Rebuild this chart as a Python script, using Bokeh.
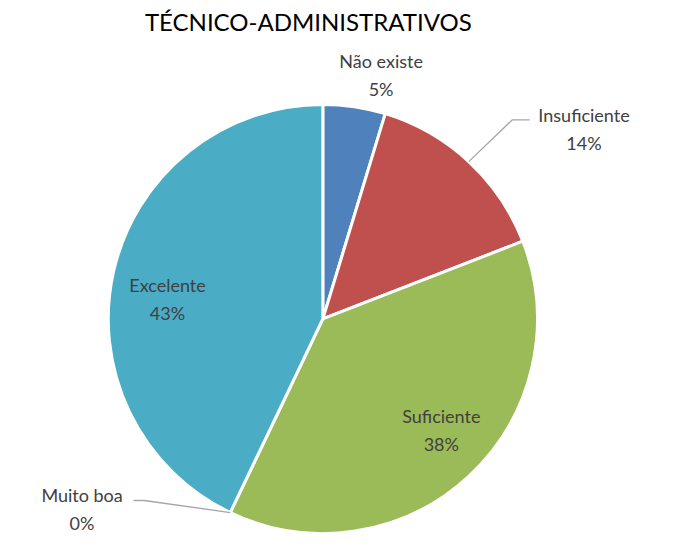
import math
from bokeh.plotting import figure
from bokeh.models import Range1d
from bokeh.core.properties import value
from bokeh.embed import file_html
from bokeh.resources import INLINE

# ---- data ----
categories = ["Não existe", "Insuficiente", "Suficiente", "Muito boa", "Excelente"]
values = [4.7, 14.4, 38.0, 0.0, 42.9]
pct_labels = ["5%", "14%", "38%", "0%", "43%"]
colors = ["#4F81BD", "#C0504D", "#9BBB59", "#8064A2", "#4BACC6"]
title_text = "TÉCNICO-ADMINISTRATIVOS"

# ---- layout (reference pixel coords, y downward) ----
W, H = 674, 534
CX, CY, R = 332, 328, 221
label_pos = [(392, 62), (601, 118), (454, 428), (84, 509), (172, 293)]
leader_elbows = {1: [(527, 123), (545, 123)], 3: [(148, 515), (137, 515)]}
FONT = "Lato"

def Y(ry):
    return 550 - ry

p = figure(width=W, height=H, x_range=Range1d(0, 550 * W / H), y_range=Range1d(0, 550),
           output_backend="svg", toolbar_location=None, min_border=0)
p.axis.visible = False
p.grid.visible = False
p.outline_line_color = None
p.background_fill_color = "white"
p.border_fill_color = "white"

total = sum(values)
cum = 0.0
mids = []
for cat, v, c in zip(categories, values, colors):
    a0 = math.pi / 2 - 2 * math.pi * cum / total
    a1 = math.pi / 2 - 2 * math.pi * (cum + v) / total
    mids.append(math.pi / 2 - 2 * math.pi * (cum + v / 2) / total)
    if v > 0:
        p.wedge(x=CX, y=Y(CY), radius=R, start_angle=a0, end_angle=a1, direction="clock",
                fill_color=c, line_color="white", line_width=3)
    cum += v

# leader lines
for i, pts in leader_elbows.items():
    sx = CX + R * math.cos(mids[i])
    sy = Y(CY) + R * math.sin(mids[i])
    xs = [sx] + [q[0] for q in pts]
    ys = [sy] + [Y(q[1]) for q in pts]
    p.line(xs, ys, line_color="#A6A6A6", line_width=1.3)

# labels
for (lx, ly), cat, pl in zip(label_pos, categories, pct_labels):
    p.text(x=[lx], y=[Y(ly)], text=[cat], text_align="center", text_baseline="middle",
           text_font=value(FONT), text_font_size="18px", text_color="#404040")
    p.text(x=[lx], y=[Y(ly + 29)], text=[pl], text_align="center", text_baseline="middle",
           text_font=value(FONT), text_font_size="18px", text_color="#404040")

p.text(x=[317], y=[Y(22)], text=[title_text], text_align="center", text_baseline="middle",
       text_font=value(FONT), text_font_size="24px", text_color="#000000")

open("out.html", "w").write(file_html(p, INLINE))
